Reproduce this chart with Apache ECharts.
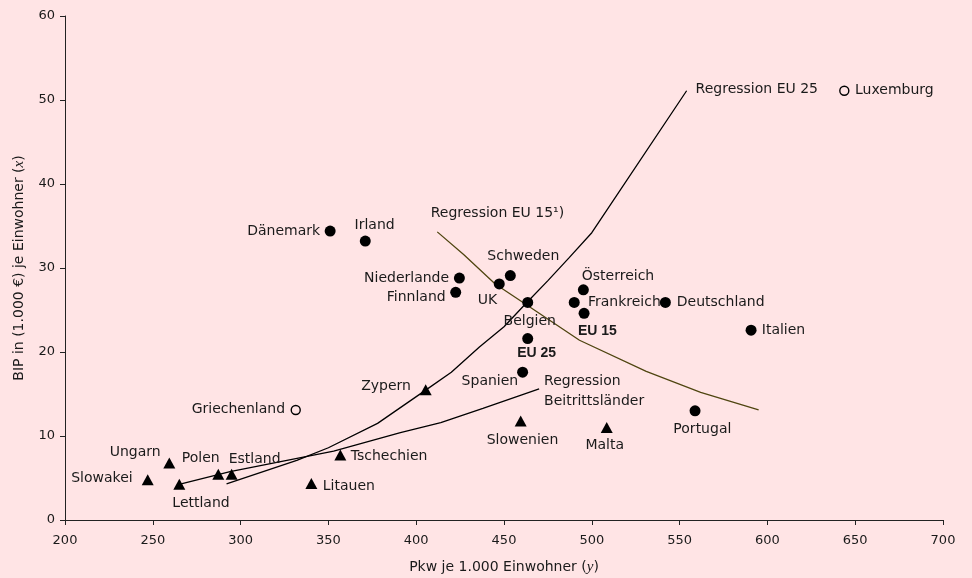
<!DOCTYPE html>
<html><head><meta charset="utf-8">
<script src="https://cdn.jsdelivr.net/npm/echarts@6/dist/echarts.min.js"></script>
<style>html,body{margin:0;padding:0;background:#FFE4E5;} #c{width:972px;height:578px;}</style>
</head><body><div id="c"></div>
<script>
// EU 15 countries and aggregates (filled circles)
const eu15Names = ['Dänemark','Irland','Niederlande','Finnland','UK','Schweden','Belgien','Österreich','Frankreich','Deutschland','Italien','Spanien','Portugal','EU 15','EU 25'];
const eu15X = [351, 371, 424.6, 422.5, 447.3, 453.6, 463.5, 495.2, 490.0, 541.9, 590.7, 460.6, 558.8, 495.6, 463.5];
const eu15Y = [34.4, 33.2, 28.8, 27.1, 28.1, 29.1, 25.9, 27.4, 25.9, 25.9, 22.6, 17.6, 13.0, 24.6, 21.6];
// Outliers (hollow circles)
const outNames = ['Griechenland','Luxemburg'];
const outX = [331.4, 643.8];
const outY = [13.1, 51.1];
// Accession countries (triangles)
const accNames = ['Zypern','Ungarn','Slowakei','Polen','Estland','Lettland','Litauen','Tschechien','Slowenien','Malta'];
const accX = [405.4, 259.4, 247.1, 287.3, 294.9, 265.1, 340.3, 356.8, 459.5, 508.5];
const accY = [15.5, 6.8, 4.8, 5.45, 5.45, 4.25, 4.35, 7.75, 11.8, 11.0];
// Regression lines
const regEU25X = [292, 332, 350, 378, 405, 420, 436, 450, 463, 475, 487, 500, 554];
const regEU25Y = [4.3, 7.1, 8.6, 11.5, 15.4, 17.6, 20.6, 23.0, 25.9, 28.5, 31.2, 34.2, 51.1];
const regEU15X = [412, 427, 445, 463, 493, 531, 562, 595];
const regEU15Y = [34.3, 31.6, 28.1, 25.6, 21.4, 17.7, 15.2, 13.1];
const regAccX = [265, 294, 353, 391, 414, 438, 470];
const regAccY = [4.25, 5.75, 8.2, 10.4, 11.6, 13.3, 15.6];
const regLabels = ['Regression EU 25', 'Regression EU 15\u00b9)', 'Regression\nBeitrittsländer'];

// label placement (style): [dx, dy, align]
const place = {
  'Dänemark': [-10, 0, 'right'], 'Irland': [-10.7, -16, 'left'], 'Niederlande': [-10.3, 0, 'right'],
  'Finnland': [-10, 5, 'right'], 'UK': [-11.8, 16, 'center'], 'Schweden': [13, -19.7, 'center'],
  'Belgien': [2, 19.3, 'center'], 'Österreich': [-1.6, -13.3, 'left'], 'Frankreich': [13.7, 0, 'left'],
  'Deutschland': [11.4, 0, 'left'], 'Italien': [10.7, 0, 'left'], 'Spanien': [-4.4, 8.7, 'right'],
  'Portugal': [7.3, 18.3, 'center'], 'EU 15': [13.3, 17.4, 'center'], 'EU 25': [9, 14.6, 'center'],
  'Griechenland': [-10.7, -0.7, 'right'], 'Luxemburg': [10.7, 0, 'left'],
  'Zypern': [-14.7, -3, 'right'], 'Ungarn': [-34.1, -11, 'center'], 'Slowakei': [-15, -1, 'right'],
  'Polen': [-17.5, -15.6, 'center'], 'Estland': [23, -15.3, 'center'], 'Lettland': [21.7, 19, 'center'],
  'Litauen': [11.4, 2.7, 'left'], 'Tschechien': [10.4, 1.7, 'left'], 'Slowenien': [1.8, 19, 'center'],
  'Malta': [-2, 17.3, 'center']
};
const regPlace = [[9, -1.5, 'left'], [-6.6, -18.4, 'left'], [5, 2.4, 'left']];

const FONT = 'DejaVu Sans';
const TXT = '#1a1a1a';

function pts(names, xs, ys) {
  return names.map((n, i) => {
    const p = place[n];
    const bold = (n === 'EU 15' || n === 'EU 25');
    return {
      name: n, value: [xs[i], ys[i]],
      label: Object.assign({ offset: [p[0], p[1]], align: p[2] },
        bold ? { fontWeight: 'bold', fontFamily: 'Liberation Sans', fontSize: 14 } : {})
    };
  });
}
function line(xs, ys) { return xs.map((x, i) => [x, ys[i]]); }

const baseLabel = { show: true, position: 'inside', formatter: '{b}', color: TXT, fontSize: 14, fontFamily: FONT,
  verticalAlign: 'middle', textBorderWidth: 0, textShadowBlur: 0 };

const regLabelData = [
  { name: regLabels[0], value: [regEU25X[regEU25X.length - 1], regEU25Y[regEU25Y.length - 1]] },
  { name: regLabels[1], value: [regEU15X[0], regEU15Y[0]] },
  { name: regLabels[2], value: [regAccX[regAccX.length - 1], regAccY[regAccY.length - 1]] }
].map((d, i) => Object.assign(d, { label: { offset: [regPlace[i][0], regPlace[i][1]], align: regPlace[i][2] } }));

const chart = echarts.init(document.getElementById('c'), null, { renderer: 'canvas' });
chart.setOption({
  animation: false,
  backgroundColor: '#FFE4E5',
  grid: { left: 65, right: 29, top: 16, bottom: 58, containLabel: false, outerBoundsMode: 'none' },
  xAxis: {
    type: 'value', min: 200, max: 700, interval: 50,
    name: 'Pkw je 1.000 Einwohner ({i|y})', nameLocation: 'middle', nameGap: 40,
    nameTextStyle: { color: TXT, fontSize: 14, fontFamily: FONT,
      rich: { i: { fontFamily: 'Liberation Serif', fontStyle: 'italic', fontSize: 15, color: TXT } } },
    splitLine: { show: false },
    axisLine: { show: true, lineStyle: { color: '#222', width: 1 } },
    axisTick: { show: true, length: 5, lineStyle: { color: '#222' } },
    axisLabel: { color: TXT, fontSize: 13, fontFamily: FONT, margin: 14 }
  },
  yAxis: {
    type: 'value', min: 0, max: 60, interval: 10,
    name: 'BIP in (1.000 €) je Einwohner ({i|x})', nameLocation: 'middle', nameGap: 38,
    nameTextStyle: { color: TXT, fontSize: 14, fontFamily: FONT,
      rich: { i: { fontFamily: 'Liberation Serif', fontStyle: 'italic', fontSize: 15, color: TXT } } },
    splitLine: { show: false },
    axisLine: { show: true, lineStyle: { color: '#222', width: 1 } },
    axisTick: { show: true, length: 5, lineStyle: { color: '#222' } },
    axisLabel: { color: TXT, fontSize: 13, fontFamily: FONT, margin: 10 }
  },
  series: [
    { type: 'line', data: line(regEU25X, regEU25Y), symbol: 'none', silent: true, z: 1,
      lineStyle: { color: '#000', width: 1.3 } },
    { type: 'line', data: line(regEU15X, regEU15Y), symbol: 'none', silent: true, z: 1,
      lineStyle: { color: '#4f4510', width: 1.3 } },
    { type: 'line', data: line(regAccX, regAccY), symbol: 'none', silent: true, z: 1,
      lineStyle: { color: '#000', width: 1.3 } },
    { type: 'scatter', data: pts(eu15Names, eu15X, eu15Y), symbol: 'circle', symbolSize: 11, z: 3,
      itemStyle: { color: '#000', opacity: 1 }, label: baseLabel },
    { type: 'scatter', data: pts(outNames, outX, outY), symbol: 'circle', symbolSize: 9, z: 3,
      itemStyle: { color: 'rgba(0,0,0,0)', borderColor: '#000', borderWidth: 1.4, opacity: 1 }, label: baseLabel },
    { type: 'scatter', data: pts(accNames, accX, accY), symbol: 'triangle', symbolSize: [12, 11], z: 3,
      itemStyle: { color: '#000', opacity: 1 }, label: baseLabel },
    { type: 'scatter', data: regLabelData, symbol: 'circle', symbolSize: 0, z: 3, silent: true,
      itemStyle: { color: 'rgba(0,0,0,0)', opacity: 1 }, label: Object.assign({}, baseLabel, { lineHeight: 20 }) }
  ]
});
</script>
</body></html>
